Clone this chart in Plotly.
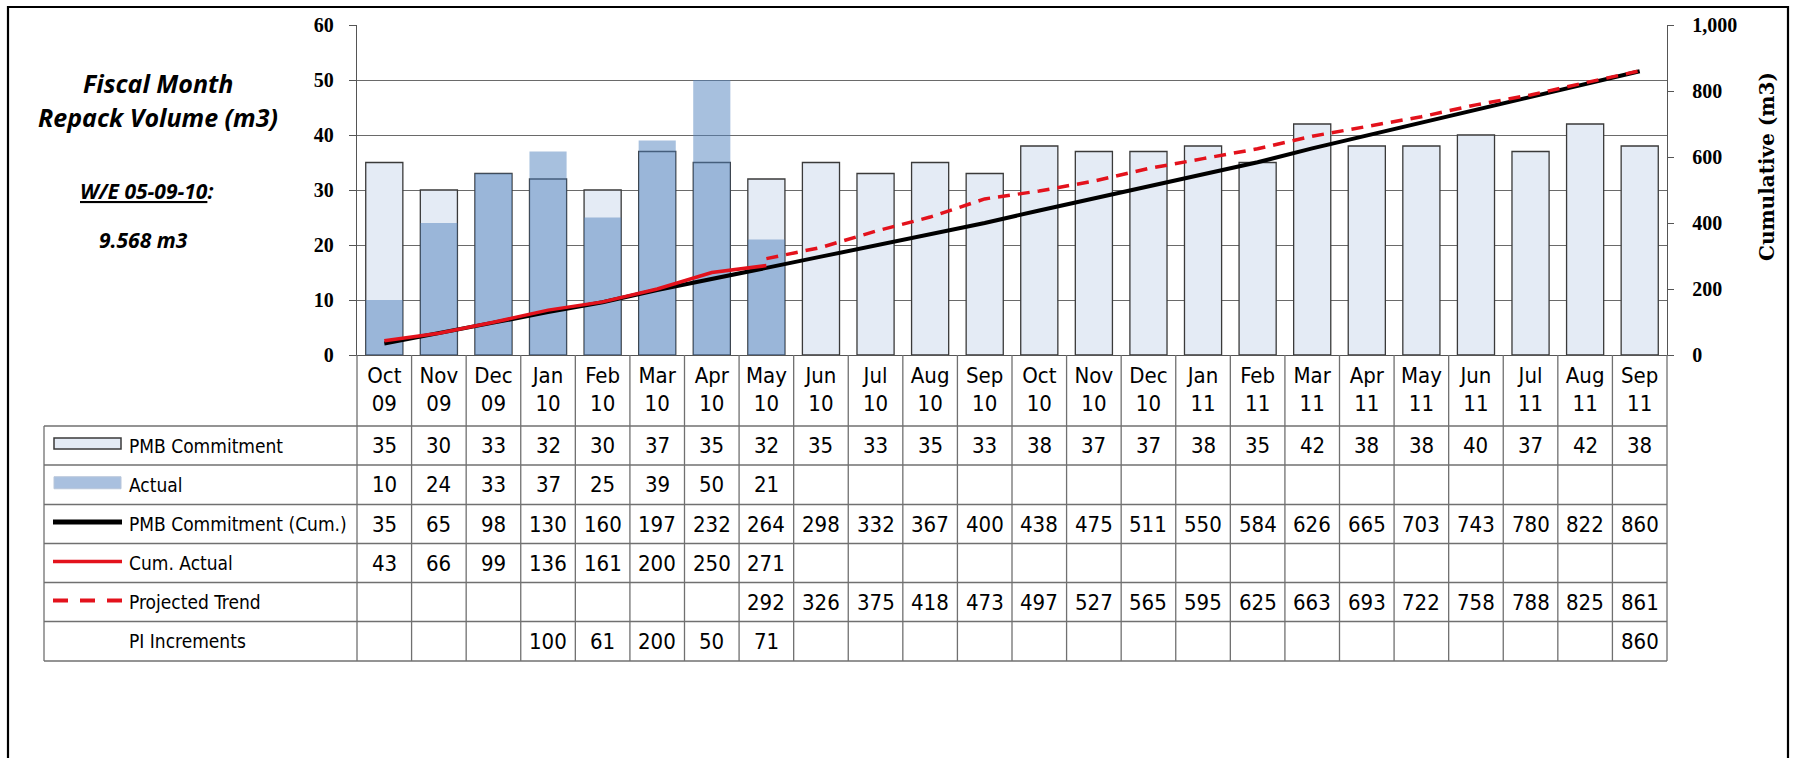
import plotly.graph_objects as go

# ---------------- data ----------------
months = ["Oct", "Nov", "Dec", "Jan", "Feb", "Mar", "Apr", "May", "Jun", "Jul", "Aug", "Sep",
          "Oct", "Nov", "Dec", "Jan", "Feb", "Mar", "Apr", "May", "Jun", "Jul", "Aug", "Sep"]
years = ["09"] * 3 + ["10"] * 12 + ["11"] * 9
categories = [f"{m} {y}" for m, y in zip(months, years)]
tick_labels = [f"{m}<br>{y}" for m, y in zip(months, years)]

pmb_commitment = [35, 30, 33, 32, 30, 37, 35, 32, 35, 33, 35, 33,
                  38, 37, 37, 38, 35, 42, 38, 38, 40, 37, 42, 38]
actual = [10, 24, 33, 37, 25, 39, 50, 21] + [None] * 16
pmb_cum = [35, 65, 98, 130, 160, 197, 232, 264, 298, 332, 367, 400,
           438, 475, 511, 550, 584, 626, 665, 703, 743, 780, 822, 860]
cum_actual = [43, 66, 99, 136, 161, 200, 250, 271] + [None] * 16
projected_trend = [None] * 7 + [292, 326, 375, 418, 473, 497, 527, 565, 595, 625,
                                663, 693, 722, 758, 788, 825, 861]
pi_increments = [None, None, None, 100, 61, 200, 50, 71] + [None] * 15 + [860]

row_labels = ["PMB Commitment", "Actual", "PMB Commitment (Cum.)",
              "Cum. Actual", "Projected Trend", "PI Increments"]
row_values = [pmb_commitment, actual, pmb_cum, cum_actual, projected_trend, pi_increments]

# ---------------- layout geometry ----------------
W, H = 1793, 758
L, R, T, B = 357, 1667, 25, 355
XR = [-0.5, len(categories) - 0.5]


def px_x(x):
    return (x - L) / (R - L)


def px_y(y):
    return (B - y) / (B - T)


def cat_edge(i):
    return (i - 0.5 - XR[0]) / (XR[1] - XR[0])


NARROW = "Liberation Sans Narrow, Arial Narrow, DejaVu Sans Condensed, sans-serif"
SERIF = "Liberation Serif, Times New Roman, serif"
WSERIF = "DejaVu Serif, Cambria, serif"
CAL = "Open Sans, Calibri, sans-serif"
RED = "#E3121C"
GRID = "#6a6a6a"
TBL = "#707070"

fig = go.Figure()
fig.add_bar(x=categories, y=pmb_commitment, name="PMB Commitment", width=0.68,
            marker=dict(color="#E4EBF5", line=dict(color="#3a3a3a", width=1.3)))
fig.add_bar(x=categories, y=actual, name="Actual", width=0.68,
            marker=dict(color="rgba(79,129,189,0.5)", line=dict(width=0)))
fig.add_scatter(x=categories, y=pmb_cum, yaxis="y2", mode="lines", name="PMB Commitment (Cum.)",
                line=dict(color="black", width=4))
fig.add_scatter(x=categories, y=cum_actual, yaxis="y2", mode="lines", name="Cum. Actual",
                line=dict(color=RED, width=3.5))
fig.add_scatter(x=categories, y=projected_trend, yaxis="y2", mode="lines", name="Projected Trend",
                line=dict(color=RED, width=3.5, dash="12px,8px"))

shapes = []
annotations = []

# outer frame
shapes.append(dict(type="rect", xref="paper", yref="paper",
                   x0=px_x(8), x1=px_x(1788), y0=px_y(800), y1=px_y(7),
                   line=dict(color="black", width=2.2), layer="above"))

# table geometry
row_edges = [426, 465, 504.5, 543.5, 582.5, 621.5, 661]
tbl_left = 44
for y in row_edges:
    shapes.append(dict(type="line", xref="paper", yref="paper",
                       x0=px_x(tbl_left), x1=px_x(R), y0=px_y(y), y1=px_y(y),
                       line=dict(color=TBL, width=1.3)))
shapes.append(dict(type="line", xref="paper", yref="paper",
                   x0=px_x(tbl_left), x1=px_x(tbl_left), y0=px_y(row_edges[0]), y1=px_y(row_edges[-1]),
                   line=dict(color=TBL, width=1.3)))
for i in range(len(categories) + 1):
    xp = cat_edge(i)
    shapes.append(dict(type="line", xref="paper", yref="paper",
                       x0=xp, x1=xp, y0=px_y(B), y1=px_y(row_edges[-1]),
                       line=dict(color=TBL, width=1.3)))

# row labels and cell values
for r, (lab, vals) in enumerate(zip(row_labels, row_values)):
    yc = (row_edges[r] + row_edges[r + 1]) / 2
    annotations.append(dict(text=lab, xref="paper", yref="paper", x=px_x(127), y=px_y(yc),
                            xanchor="left", yanchor="middle", showarrow=False,
                            font=dict(family=NARROW, size=19, color="black")))
    for cat, v in zip(categories, vals):
        if v is None:
            continue
        annotations.append(dict(text=str(v), xref="x", yref="paper", x=cat, y=px_y(yc),
                                xanchor="center", yanchor="middle", showarrow=False,
                                font=dict(family=NARROW, size=22, color="black")))

# legend symbols
y1c = (row_edges[0] + row_edges[1]) / 2 - 2
shapes.append(dict(type="rect", xref="paper", yref="paper", x0=px_x(54), x1=px_x(121),
                   y0=px_y(y1c + 5.5), y1=px_y(y1c - 5.5),
                   fillcolor="#E4EBF5", line=dict(color="#3a3a3a", width=1.5)))
y2c = (row_edges[1] + row_edges[2]) / 2 - 2
shapes.append(dict(type="rect", xref="paper", yref="paper", x0=px_x(54), x1=px_x(121),
                   y0=px_y(y2c + 6), y1=px_y(y2c - 6),
                   fillcolor="#A9C0DF", line=dict(color="#B8C6DA", width=1)))
y3c = (row_edges[2] + row_edges[3]) / 2 - 2
shapes.append(dict(type="line", xref="paper", yref="paper", x0=px_x(53), x1=px_x(122),
                   y0=px_y(y3c), y1=px_y(y3c), line=dict(color="black", width=5)))
y4c = (row_edges[3] + row_edges[4]) / 2 - 1.5
shapes.append(dict(type="line", xref="paper", yref="paper", x0=px_x(53), x1=px_x(122),
                   y0=px_y(y4c), y1=px_y(y4c), line=dict(color=RED, width=3.5)))
y5c = (row_edges[4] + row_edges[5]) / 2 - 1.5
shapes.append(dict(type="line", xref="paper", yref="paper", x0=px_x(53), x1=px_x(122),
                   y0=px_y(y5c), y1=px_y(y5c), line=dict(color=RED, width=4, dash="15px,12px")))

# left titles
annotations += [
    dict(text="<b><i>Fiscal Month</i></b>", xref="paper", yref="paper", x=px_x(158), y=px_y(83),
         showarrow=False, xanchor="center", yanchor="middle", font=dict(family=CAL, size=25, color="black")),
    dict(text="<b><i>Repack Volume (m3)</i></b>", xref="paper", yref="paper", x=px_x(158), y=px_y(117),
         showarrow=False, xanchor="center", yanchor="middle", font=dict(family=CAL, size=25, color="black")),
    dict(text="<b><i><u>W/E 05-09-10</u>:</i></b>", xref="paper", yref="paper", x=px_x(146), y=px_y(191),
         showarrow=False, xanchor="center", yanchor="middle", font=dict(family=CAL, size=21, color="black")),
    dict(text="<b><i>9.568 m3</i></b>", xref="paper", yref="paper", x=px_x(143), y=px_y(240),
         showarrow=False, xanchor="center", yanchor="middle", font=dict(family=CAL, size=21, color="black")),
    # right axis title
    dict(text="<b>Cumulative (m3)</b>", xref="paper", yref="paper", x=px_x(1767), y=px_y(166),
         showarrow=False, xanchor="center", yanchor="middle", textangle=-90,
         font=dict(family=WSERIF, size=20, color="black")),
]

fig.update_layout(
    width=W, height=H,
    margin=dict(l=L, r=W - R, t=T, b=H - B, pad=0),
    barmode="overlay",
    showlegend=False,
    plot_bgcolor="white", paper_bgcolor="white",
    shapes=shapes, annotations=annotations,
    xaxis=dict(type="category", range=XR, tickvals=categories, ticktext=tick_labels,
               ticks="", showline=True, linecolor="#555555", linewidth=1.3, showgrid=False,
               tickfont=dict(family=NARROW, size=22, color="black"), fixedrange=True),
    yaxis=dict(range=[0, 60], dtick=10, showgrid=True, gridcolor=GRID, gridwidth=1.2,
               zeroline=False, ticks="outside", ticklen=7, tickcolor="#555555", tickwidth=1.2,
               showline=True, linecolor="#555555", linewidth=1.3, ticklabelstandoff=11,
               tickfont=dict(family=SERIF, size=20, color="black", weight="bold"), fixedrange=True),
    yaxis2=dict(range=[0, 1000], dtick=200, overlaying="y", side="right", tickformat=",",
                showgrid=False, zeroline=False, ticks="outside", ticklen=6, tickcolor="#555555",
                tickwidth=1.2, showline=True, linecolor="#555555", linewidth=1.3,
                ticklabelstandoff=14,
                tickfont=dict(family=SERIF, size=20, color="black", weight="bold"),
                fixedrange=True),
)

fig.write_html("out.html", config={"displayModeBar": False},
               post_script="document.body.style.margin='0';document.body.style.padding='0';")
